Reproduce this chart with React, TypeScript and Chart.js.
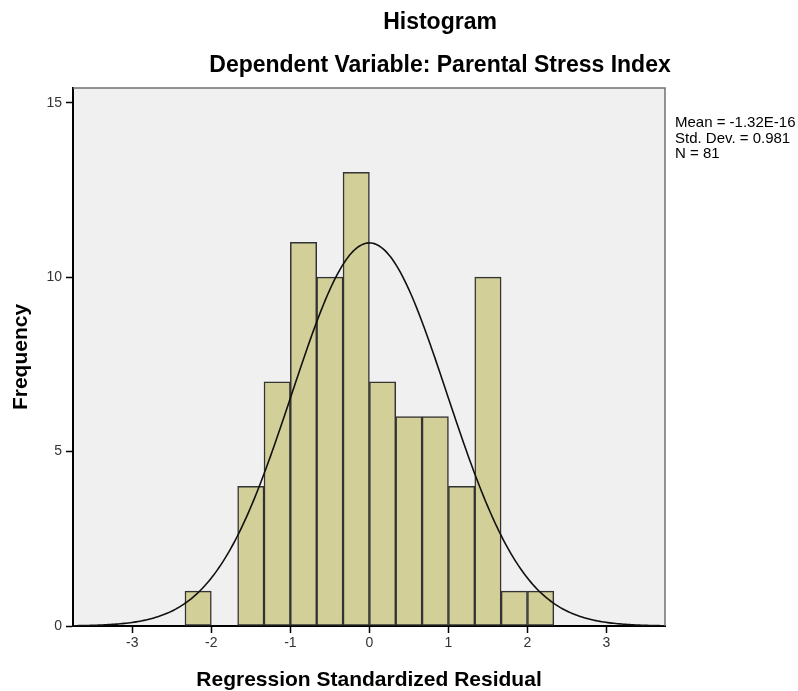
import React, { useEffect, useRef } from "react";
import { Chart, registerables } from "chart.js";

Chart.register(...registerables);

// ---- data ----
const binStarts = [-7 / 3, -5 / 3, -4 / 3, -1, -2 / 3, -1 / 3, 0, 1 / 3, 2 / 3, 1, 4 / 3, 5 / 3, 2];
const frequencies = [1, 4, 7, 11, 10, 13, 7, 6, 6, 4, 10, 1, 1];
const binWidth = 1 / 3;
const xTicks = [-3, -2, -1, 0, 1, 2, 3];
const yTicks = [0, 5, 10, 15];
const xRange = [-3.75, 3.74];
const yRange = [0, 15.42];
const meanValue = -1.32e-16;
const sdValue = 0.981;
const nValue = 81;
const statsLines = ["Mean = -1.32E-16", "Std. Dev. = 0.981", "N = 81"];
const titleText = "Histogram";
const subtitleText = "Dependent Variable: Parental Stress Index";
const xTitle = "Regression Standardized Residual";
const yTitle = "Frequency";

const FONT = "'Liberation Sans', Arial, sans-serif";

// fitted normal curve (mean, sd, N from the chart's own statistics)
function normalCurve() {
  const pts: { x: number; y: number }[] = [];
  const steps = 300;
  for (let i = 0; i <= steps; i++) {
    const x = xRange[0] + ((xRange[1] - xRange[0]) * i) / steps;
    const z = (x - meanValue) / sdValue;
    const y = (nValue * binWidth * Math.exp(-0.5 * z * z)) / (sdValue * Math.sqrt(2 * Math.PI));
    pts.push({ x, y });
  }
  return pts;
}

const decorPlugin = {
  id: "decor",
  beforeDraw(chart: any) {
    const { ctx, chartArea: a } = chart;
    ctx.save();
    ctx.fillStyle = "#ffffff";
    ctx.fillRect(0, 0, chart.width, chart.height);
    ctx.fillStyle = "#f0f0f0";
    ctx.fillRect(a.left, a.top, a.right - a.left, a.bottom - a.top);
    ctx.restore();
  },
  afterDraw(chart: any) {
    const { ctx, chartArea: a } = chart;
    ctx.save();
    // top and right frame
    ctx.strokeStyle = "#707070";
    ctx.lineWidth = 1.5;
    ctx.beginPath();
    ctx.moveTo(a.left, a.top);
    ctx.lineTo(a.right, a.top);
    ctx.lineTo(a.right, a.bottom);
    ctx.stroke();

    // titles
    ctx.fillStyle = "#000";
    ctx.textAlign = "center";
    ctx.textBaseline = "alphabetic";
    ctx.font = `bold 23px ${FONT}`;
    ctx.fillText(titleText, 440, 29);
    ctx.fillText(subtitleText, 440, 72);

    // statistics
    ctx.textAlign = "left";
    ctx.font = `15px ${FONT}`;
    statsLines.forEach((t, i) => ctx.fillText(t, 675, 127 + i * 15.5));
    ctx.restore();
  },
};

export default function App() {
  const ref = useRef<HTMLCanvasElement>(null);

  useEffect(() => {
    if (!ref.current) return;
    const barData = binStarts.map((s, i) => ({ x: s + binWidth / 2, y: frequencies[i] }));
    const chart = new Chart(ref.current, {
      type: "bar",
      data: {
        datasets: [
          {
            type: "line",
            data: normalCurve(),
            borderColor: "#111",
            borderWidth: 1.6,
            pointRadius: 0,
            tension: 0,
            fill: false,
            order: 0,
          } as any,
          {
            type: "bar",
            data: barData,
            backgroundColor: "#d3cf98",
            borderColor: "#333",
            borderWidth: 1.5,
            borderSkipped: false,
            barPercentage: 1,
            categoryPercentage: 1,
            order: 1,
          } as any,
        ],
      },
      options: {
        responsive: false,
        animation: false,
        events: [],
        layout: { padding: { top: 88, right: 133, left: 0, bottom: 0 } },
        plugins: { legend: { display: false }, title: { display: false }, tooltip: { enabled: false } },
        scales: {
          x: {
            type: "linear",
            offset: false,
            min: xRange[0],
            max: xRange[1],
            afterBuildTicks: (s: any) => {
              s.ticks = xTicks.map((v) => ({ value: v }));
            },
            afterFit: (s: any) => {
              s.height = 65;
            },
            grid: {
              display: true,
              offset: false,
              drawOnChartArea: false,
              drawTicks: true,
              tickLength: 7,
              tickColor: "#000",
              tickWidth: 1.5,
            },
            border: { display: true, color: "#000", width: 2 },
            ticks: {
              color: "#333",
              font: { family: FONT, size: 14 },
              padding: 2,
              maxRotation: 0,
              autoSkip: false,
              callback: (v: any) => String(v),
            },
            title: {
              display: true,
              text: xTitle,
              color: "#000",
              font: { family: FONT, size: 21, weight: "bold" },
              padding: { top: 0, bottom: -2 },
            },
          },
          y: {
            type: "linear",
            min: yRange[0],
            max: yRange[1],
            afterBuildTicks: (s: any) => {
              s.ticks = yTicks.map((v) => ({ value: v }));
            },
            afterFit: (s: any) => {
              s.width = 73;
            },
            grid: {
              display: true,
              offset: false,
              drawOnChartArea: false,
              drawTicks: true,
              tickLength: 7,
              tickColor: "#000",
              tickWidth: 1.5,
            },
            border: { display: true, color: "#000", width: 2 },
            ticks: {
              color: "#333",
              font: { family: FONT, size: 14 },
              padding: 4,
              autoSkip: false,
              callback: (v: any) => String(v),
            },
            title: {
              display: true,
              text: yTitle,
              color: "#000",
              font: { family: FONT, size: 21, weight: "bold" },
              padding: { top: 9, bottom: 0 },
            },
          },
        },
      },
      plugins: [decorPlugin],
    });
    return () => chart.destroy();
  }, []);

  return (
    <div style={{ position: "absolute", left: 0, top: 0, width: 798, height: 691, background: "#fff" }}>
      <canvas ref={ref} width={798} height={691} style={{ display: "block", width: 798, height: 691 }} />
    </div>
  );
}
